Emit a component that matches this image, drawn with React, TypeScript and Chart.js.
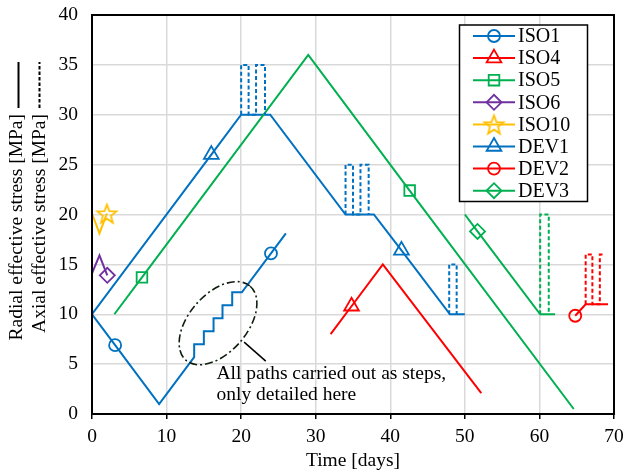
import React, { useEffect, useRef } from "react";
import { Chart, registerables } from "chart.js";

Chart.register(...registerables);

const FONT = "'Liberation Serif', 'Times New Roman', serif";

// ---- axis ticks ----
const xTickValues = [0, 10, 20, 30, 40, 50, 60, 70];
const yTickValues = [0, 5, 10, 15, 20, 25, 30, 35, 40];

// ---- legend labels ----
const seriesNames = ["ISO1", "ISO4", "ISO5", "ISO6", "ISO10", "DEV1", "DEV2", "DEV3"];

// ---- radial stress paths (solid) ----
const iso1X = [0, 3.1, 9, 13.7, 13.7, 15.0, 15.0, 16.3, 16.3, 17.5, 17.5, 18.8, 18.8, 20.1, 24, 26];
const iso1Y = [10, 6.9, 1, 5.7, 7.0, 7.0, 8.3, 8.3, 9.6, 9.6, 10.9, 10.9, 12.2, 12.2, 16.1, 18.1];
const iso1Markers = [1, 14];

const iso4X = [32, 34.8, 39, 52.2];
const iso4Y = [8, 10.8, 15, 2.1];
const iso4Markers = [1];

const iso5X = [3, 6.7, 29, 42.6, 64.6];
const iso5Y = [10, 13.7, 36, 22.4, 0.5];
const iso5Markers = [1, 3];

const iso6X = [0, 1, 2.05];
const iso6Y = [14.1, 15.9, 13.9];
const iso6Markers = [2];

const iso10X = [0, 1, 2];
const iso10Y = [20.1, 18.1, 20.1];
const iso10Markers = [2];

const dev1X = [0, 16, 20, 23.9, 34, 37.8, 41.5, 48, 50];
const dev1Y = [10, 26, 30, 30, 20, 20, 16.4, 10, 10];
const dev1Markers = [1, 6];

const dev2X = [64.8, 66.2, 69.2];
const dev2Y = [9.85, 11, 11];
const dev2Markers = [0];

const dev3X = [50, 51.7, 60.1, 62.1];
const dev3Y = [20, 18.3, 10, 10];
const dev3Markers = [1];

// ---- axial stress paths (dashed) ----
const dev1AxialAX = [20, 20, 21, 21, 22, 22, 23.2, 23.2];
const dev1AxialAY = [30, 35, 35, 30, 30, 35, 35, 30];
const dev1AxialBX = [34, 34, 35, 35, 36, 36, 37.1, 37.1];
const dev1AxialBY = [20, 25, 25, 20, 20, 25, 25, 20];
const dev1AxialCX = [47.9, 47.9, 48.9, 48.9];
const dev1AxialCY = [10, 15, 15, 10];
const dev2AxialX = [66.2, 66.2, 67.1, 67.1, 68.1, 68.1, 68.6];
const dev2AxialY = [11, 16, 16, 11, 11, 16, 16];
const dev3AxialX = [60.1, 60.1, 61.25, 61.25];
const dev3AxialY = [10, 20, 20, 10];

const BLUE = "#0070C0";
const RED = "#FF0000";
const GREEN = "#00B050";
const PURPLE = "#7030A0";
const ORANGE = "#FFC000";

function makeStar(color: string, R: number): HTMLCanvasElement {
  const c = document.createElement("canvas");
  const s = Math.ceil(R * 2 + 5) | 1;
  c.width = s;
  c.height = s;
  const g = c.getContext("2d")!;
  g.strokeStyle = color;
  g.lineWidth = 1.8;
  g.lineJoin = "miter";
  g.beginPath();
  const cx = s / 2, cy = s / 2 + R * 0.1;
  for (let k = 0; k < 10; k++) {
    const ang = -Math.PI / 2 + (k * Math.PI) / 5;
    const rr = k % 2 ? R * 0.42 : R;
    const px = cx + rr * Math.cos(ang);
    const py = cy + rr * Math.sin(ang);
    if (k === 0) g.moveTo(px, py);
    else g.lineTo(px, py);
  }
  g.closePath();
  g.stroke();
  return c;
}

function pts(xs: number[], ys: number[]) {
  return xs.map((x, i) => ({ x, y: ys[i] }));
}

function solid(label: string, xs: number[], ys: number[], color: string, style: any, radius: number, markers: number[]) {
  return {
    label,
    data: pts(xs, ys),
    showLine: true,
    borderColor: color,
    backgroundColor: "rgba(0,0,0,0)",
    borderWidth: 2,
    tension: 0,
    pointStyle: style,
    pointRadius: (c: any) => (markers.includes(c.dataIndex) ? radius : 0),
    pointHoverRadius: 0,
    pointBorderColor: color,
    pointBackgroundColor: "rgba(0,0,0,0)",
    pointBorderWidth: 1.8,
  };
}

function dashed(xs: number[], ys: number[], color: string) {
  return {
    label: "",
    data: pts(xs, ys),
    showLine: true,
    borderColor: color,
    backgroundColor: "rgba(0,0,0,0)",
    borderWidth: 2,
    borderDash: [4, 2.5],
    tension: 0,
    pointRadius: 0,
    pointHoverRadius: 0,
  };
}

function drawMarker(ctx: CanvasRenderingContext2D, style: any, x: number, y: number, r: number, color: string) {
  ctx.save();
  ctx.strokeStyle = color;
  ctx.lineWidth = 1.8;
  ctx.setLineDash([]);
  if (style instanceof HTMLCanvasElement) {
    ctx.drawImage(style, x - style.width / 2, y - style.height / 2);
    ctx.restore();
    return;
  }
  ctx.beginPath();
  if (style === "circle") {
    ctx.arc(x, y, r, 0, Math.PI * 2);
  } else if (style === "triangle") {
    ctx.moveTo(x, y - r);
    ctx.lineTo(x + r * Math.sin((2 * Math.PI) / 3), y - r * Math.cos((2 * Math.PI) / 3));
    ctx.lineTo(x + r * Math.sin((4 * Math.PI) / 3), y - r * Math.cos((4 * Math.PI) / 3));
    ctx.closePath();
  } else if (style === "rect") {
    const s = Math.SQRT1_2 * r;
    ctx.rect(x - s, y - s, 2 * s, 2 * s);
  } else if (style === "rectRot") {
    ctx.moveTo(x - r, y);
    ctx.lineTo(x, y - r);
    ctx.lineTo(x + r, y);
    ctx.lineTo(x, y + r);
    ctx.closePath();
  }
  ctx.stroke();
  ctx.restore();
}

export default function App() {
  const ref = useRef<HTMLCanvasElement | null>(null);

  useEffect(() => {
    if (!ref.current) return;
    const star = makeStar(ORANGE, 10);

    const legendItems = [
      { color: BLUE, style: "circle", r: 6 },
      { color: RED, style: "triangle", r: 8.5 },
      { color: GREEN, style: "rect", r: 7.5 },
      { color: PURPLE, style: "rectRot", r: 7.5 },
      { color: ORANGE, style: star, r: 9 },
      { color: BLUE, style: "triangle", r: 8.5 },
      { color: RED, style: "circle", r: 6 },
      { color: GREEN, style: "rectRot", r: 7.5 },
    ];

    const overlay = {
      id: "overlay",
      afterDraw(chart: any) {
        const { ctx, chartArea: a, scales } = chart;
        const xs = scales.x;
        const ys = scales.y;
        ctx.save();
        // plot frame
        ctx.setLineDash([]);
        ctx.strokeStyle = "#000";
        ctx.lineWidth = 2;
        ctx.strokeRect(a.left, a.top, a.right - a.left, a.bottom - a.top);

        // annotation: dash-dot ellipse around steps
        const ecx = xs.getPixelForValue(16.9);
        const ecy = ys.getPixelForValue(9.1);
        ctx.strokeStyle = "#0f1f0f";
        ctx.lineWidth = 1.6;
        ctx.setLineDash([8, 3, 2, 3]);
        ctx.beginPath();
        ctx.ellipse(ecx, ecy, 49, 29, (-49 * Math.PI) / 180, 0, Math.PI * 2);
        ctx.stroke();
        ctx.setLineDash([]);
        ctx.strokeStyle = "#000";
        ctx.lineWidth = 1.5;
        ctx.beginPath();
        ctx.moveTo(xs.getPixelForValue(20.4), ys.getPixelForValue(7.2));
        ctx.lineTo(xs.getPixelForValue(23.3), ys.getPixelForValue(5.3));
        ctx.stroke();
        ctx.fillStyle = "#000";
        ctx.font = `19.5px ${FONT}`;
        ctx.textAlign = "left";
        ctx.textBaseline = "alphabetic";
        const tx = xs.getPixelForValue(16.7);
        ctx.fillText("All paths carried out as steps,", tx, ys.getPixelForValue(3.53));
        ctx.fillText("only detailed here", tx, ys.getPixelForValue(1.43));

        // legend
        const lx = 459.5, ly = 25, lw = 128, lh = 176.5;
        ctx.fillStyle = "#fff";
        ctx.fillRect(lx, ly, lw, lh);
        ctx.strokeStyle = "#000";
        ctx.lineWidth = 1.5;
        ctx.strokeRect(lx, ly, lw, lh);
        ctx.font = `20px ${FONT}`;
        ctx.textBaseline = "middle";
        seriesNames.forEach((name, i) => {
          const it = legendItems[i];
          const y = 36 + i * 22.1;
          ctx.strokeStyle = it.color;
          ctx.lineWidth = 2;
          ctx.beginPath();
          ctx.moveTo(473, y);
          ctx.lineTo(515, y);
          ctx.stroke();
          drawMarker(ctx, it.style, 494, y, it.r, it.color);
          ctx.fillStyle = "#000";
          ctx.fillText(name, 518, y + 1);
        });

        // x title
        ctx.font = `19.5px ${FONT}`;
        ctx.textAlign = "center";
        ctx.textBaseline = "alphabetic";
        ctx.fillStyle = "#000";
        ctx.fillText("Time [days]", (a.left + a.right) / 2, 466);

        // y title (two rotated lines)
        ctx.save();
        ctx.rotate(-Math.PI / 2);
        ctx.textAlign = "right";
        ctx.textBaseline = "middle";
        ctx.fillText("Radial effective stress [MPa]", -114, 17);
        ctx.fillText("Axial effective stress [MPa]", -114, 40);
        ctx.strokeStyle = "#000";
        ctx.lineWidth = 2;
        ctx.beginPath();
        ctx.moveTo(-108, 18.5);
        ctx.lineTo(-62, 18.5);
        ctx.stroke();
        ctx.setLineDash([3.5, 2]);
        ctx.beginPath();
        ctx.moveTo(-108, 39.5);
        ctx.lineTo(-62, 39.5);
        ctx.stroke();
        ctx.restore();

        ctx.restore();
      },
    };

    const chart = new Chart(ref.current, {
      type: "scatter",
      data: {
        datasets: [
          dashed(dev1AxialAX, dev1AxialAY, BLUE),
          dashed(dev1AxialBX, dev1AxialBY, BLUE),
          dashed(dev1AxialCX, dev1AxialCY, BLUE),
          dashed(dev2AxialX, dev2AxialY, RED),
          dashed(dev3AxialX, dev3AxialY, GREEN),
          solid(seriesNames[0], iso1X, iso1Y, BLUE, "circle", 6, iso1Markers),
          solid(seriesNames[1], iso4X, iso4Y, RED, "triangle", 8.5, iso4Markers),
          solid(seriesNames[2], iso5X, iso5Y, GREEN, "rect", 7.5, iso5Markers),
          solid(seriesNames[3], iso6X, iso6Y, PURPLE, "rectRot", 7.5, iso6Markers),
          solid(seriesNames[4], iso10X, iso10Y, ORANGE, star, 9, iso10Markers),
          solid(seriesNames[5], dev1X, dev1Y, BLUE, "triangle", 8.5, dev1Markers),
          solid(seriesNames[6], dev2X, dev2Y, RED, "circle", 6, dev2Markers),
          solid(seriesNames[7], dev3X, dev3Y, GREEN, "rectRot", 7.5, dev3Markers),
        ] as any,
      },
      options: {
        responsive: false,
        maintainAspectRatio: false,
        devicePixelRatio: 1,
        animation: false,
        events: [],
        layout: { padding: { top: 15, right: 12, left: 0, bottom: 0 } },
        plugins: {
          legend: { display: false },
          tooltip: { enabled: false },
        },
        scales: {
          x: {
            type: "linear",
            min: xTickValues[0],
            max: xTickValues[xTickValues.length - 1],
            afterBuildTicks: (s: any) => {
              s.ticks = xTickValues.map((v) => ({ value: v }));
            },
            afterFit: (s: any) => {
              s.height = 61;
              s.paddingLeft = 0;
              s.paddingRight = 0;
            },
            grid: {
              color: "#d9d9d9",
              lineWidth: 1.5,
              drawTicks: true,
              tickLength: 5,
              tickColor: "#000",
              tickWidth: 1.5,
            },
            border: { display: false },
            ticks: {
              color: "#000",
              font: { family: FONT, size: 19.5 },
              padding: 6,
              maxRotation: 0,
              autoSkip: false,
            },
          },
          y: {
            type: "linear",
            min: yTickValues[0],
            max: yTickValues[yTickValues.length - 1],
            afterBuildTicks: (s: any) => {
              s.ticks = yTickValues.map((v) => ({ value: v }));
            },
            afterFit: (s: any) => {
              s.width = 92;
              s.paddingTop = 0;
              s.paddingBottom = 0;
            },
            grid: {
              color: "#d9d9d9",
              lineWidth: 1.5,
              drawTicks: false,
            },
            border: { display: false },
            ticks: {
              color: "#000",
              font: { family: FONT, size: 19.5 },
              padding: 14,
              autoSkip: false,
            },
          },
        },
      },
      plugins: [overlay],
    } as any);

    return () => chart.destroy();
  }, []);

  return (
    <div style={{ position: "fixed", left: 0, top: 0, width: 626, height: 475, background: "#fff" }}>
      <canvas ref={ref} width={626} height={475} style={{ display: "block", width: 626, height: 475 }} />
    </div>
  );
}
